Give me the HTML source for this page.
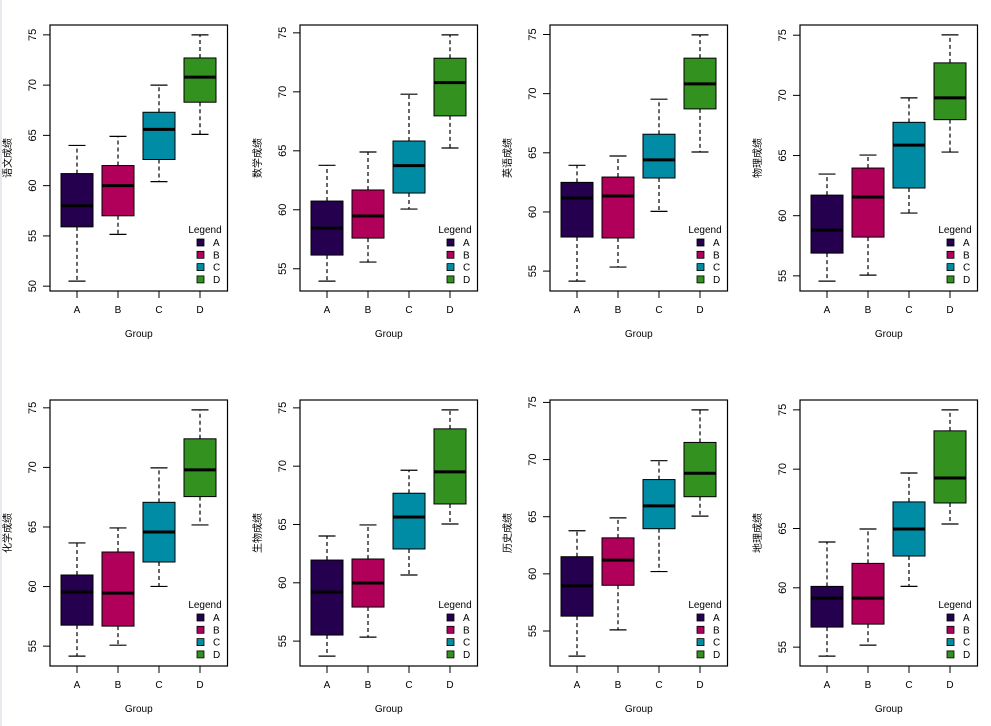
<!DOCTYPE html>
<html><head><meta charset="utf-8"><style>
html,body{margin:0;padding:0;background:#fff;}
svg{display:block;font-family:"Liberation Sans","Noto Sans CJK SC",sans-serif;}
</style></head><body>
<svg id="chart" width="991" height="726" viewBox="0 0 991 726" xmlns="http://www.w3.org/2000/svg">
<rect x="0" y="0" width="991" height="726" fill="#fff"/>
<rect x="0" y="0" width="2" height="726" fill="#e6eaef"/>
</svg>
<script>
const groups = ["A","B","C","D"];
const colors = ["#24004f","#b0005a","#008ca4","#33921f"];
const subjects = ["语文成绩","数学成绩","英语成绩","物理成绩","化学成绩","生物成绩","历史成绩","地理成绩"];
// each stat: [whiskerLow, q1, median, q3, whiskerHigh] per group
const yuwen = [[50.5,55.9,58.0,61.2,64.0],[55.15,57.0,60.0,62.0,64.9],[60.4,62.6,65.6,67.3,70.0],[65.1,68.3,70.8,72.7,75.0]];
const shuxue = [[53.95,56.16,58.45,60.74,63.77],[55.57,57.6,59.47,61.68,64.9],[60.06,61.42,63.74,65.83,69.8],[65.24,67.96,70.78,72.85,74.83]];
const yingyu = [[54.15,57.88,61.18,62.5,63.94],[55.34,57.8,61.35,62.95,64.73],[60.05,62.87,64.4,66.57,69.53],[65.07,68.71,70.83,73.0,74.97]];
const wuli = [[54.56,56.89,58.8,61.71,63.46],[55.06,58.22,61.55,63.96,65.04],[60.22,62.3,65.87,67.76,69.79],[65.29,67.98,69.79,72.7,75.03]];
const huaxue = [[54.16,56.76,59.54,60.97,63.66],[55.08,56.68,59.45,62.9,64.92],[60.01,62.06,64.58,67.07,69.96],[65.17,67.55,69.79,72.4,74.83]];
const shengwu = [[53.71,55.52,59.21,61.95,64.01],[55.34,57.92,59.98,62.04,64.96],[60.67,62.9,65.64,67.68,69.65],[65.04,66.76,69.51,73.2,74.83]];
const lishi = [[52.8,56.3,58.95,61.5,63.77],[55.1,59.0,61.2,63.15,64.9],[60.2,63.95,65.95,68.25,69.9],[65.05,66.75,68.8,71.5,74.35]];
const dili = [[54.24,56.69,59.13,60.12,63.86],[55.17,56.94,59.13,62.06,64.96],[60.12,62.68,64.96,67.24,69.68],[65.38,67.15,69.26,73.23,75.0]];
const panelsData = [yuwen,shuxue,yingyu,wuli,huaxue,shengwu,lishi,dili];
const tickValues = [50,55,60,65,70,75];

const svg = document.getElementById('chart');
const NS = "http://www.w3.org/2000/svg";
function mk(tag, attrs, parent){
  const e = document.createElementNS(NS, tag);
  for (const k in attrs) e.setAttribute(k, attrs[k]);
  parent.appendChild(e);
  return e;
}
panelsData.forEach((data, p) => {
  const col = p % 4, row = Math.floor(p/4);
  const L = 50 + col*250, R = L + 177.5;
  const T = row === 0 ? 25 : 400, B = T + 266;
  const g = mk('g', {}, svg);
  
  
  let lo = Infinity, hi = -Infinity;
  data.forEach(s => { lo = Math.min(lo, s[0]); hi = Math.max(hi, s[4]); });
  const pad = (hi - lo) * 0.04;
  const y0 = lo - pad, y1 = hi + pad;
  const yScale = v => B - (v - y0) / (y1 - y0) * (B - T);
  const xScale = i => L + 27 + i * 41;
  // boxes
  data.forEach((s, i) => {
    const cx = xScale(i), hw = 16, cw = 8.5;
    const bg = mk('g', {}, g);
    
    
    mk('line', {x1:cx, x2:cx, y1:yScale(s[3]), y2:yScale(s[4]), stroke:'#000','stroke-width':1.2,'stroke-dasharray':'4,3'}, bg);
    mk('line', {x1:cx, x2:cx, y1:yScale(s[1]), y2:yScale(s[0]), stroke:'#000','stroke-width':1.2,'stroke-dasharray':'4,3'}, bg);
    mk('line', {x1:cx-cw, x2:cx+cw, y1:yScale(s[4]), y2:yScale(s[4]), stroke:'#000','stroke-width':1.2}, bg);
    mk('line', {x1:cx-cw, x2:cx+cw, y1:yScale(s[0]), y2:yScale(s[0]), stroke:'#000','stroke-width':1.2}, bg);
    mk('rect', {x:cx-hw, y:yScale(s[3]), width:hw*2, height:yScale(s[1])-yScale(s[3]), fill:colors[i], stroke:'#000','stroke-width':1}, bg);
    mk('line', {x1:cx-hw, x2:cx+hw, y1:yScale(s[2]), y2:yScale(s[2]), stroke:'#000','stroke-width':3}, bg);
  });
  mk('rect', {x:L, y:T, width:R-L, height:B-T, fill:'none', stroke:'#000','stroke-width':1.2}, g);
  // y axis
  const ticks = tickValues.filter(v => v >= y0 && v <= y1);
  const ya = mk('g', {}, g);
  
  
  mk('line', {x1:L, x2:L, y1:yScale(ticks[0]), y2:yScale(ticks[ticks.length-1]), stroke:'#000','stroke-width':1}, ya);
  ticks.forEach(v => {
    const y = yScale(v);
    mk('line', {x1:L-7, x2:L, y1:y, y2:y, stroke:'#000','stroke-width':1}, ya);
    const t = mk('text', {x:L-14, y:y, transform:`rotate(-90 ${L-14} ${y})`, 'text-anchor':'middle','font-size':11, fill:'#000'}, ya);
    t.textContent = v;
  });
  const yt = mk('text', {x:L-39, y:(T+B)/2, transform:`rotate(-90 ${L-39} ${(T+B)/2})`, 'text-anchor':'middle','font-size':10, fill:'#000'}, g);
  
  
  yt.textContent = subjects[p];
  // x axis
  const xa = mk('g', {}, g);
  
  
  groups.forEach((gr, i) => {
    const x = xScale(i);
    mk('line', {x1:x, x2:x, y1:B, y2:B+7, stroke:'#000','stroke-width':1}, xa);
    const t = mk('text', {x:x, y:B+22, 'text-anchor':'middle','font-size':10, fill:'#000'}, xa);
    t.textContent = gr;
  });
  const xt = mk('text', {x:(L+R)/2, y:B+46, 'text-anchor':'middle','font-size':10, fill:'#000'}, g);
  
  
  xt.textContent = 'Group';
  // legend
  const lg = mk('g', {}, g);
  
  
  const lt = mk('text', {x:L+155, y:B-58, 'text-anchor':'middle','font-size':10, fill:'#000'}, lg);
  lt.textContent = 'Legend';
  groups.forEach((gr, i) => {
    const yy = B - 52 + i*12.3;
    const e = mk('g', {}, lg);
    
    
    mk('rect', {x:L+147, y:yy, width:7, height:7, fill:colors[i], stroke:'#000','stroke-width':0.8}, e);
    const tt = mk('text', {x:L+163, y:yy+7, 'font-size':10, fill:'#000'}, e);
    tt.textContent = gr;
  });
});
</script>
</body></html>
